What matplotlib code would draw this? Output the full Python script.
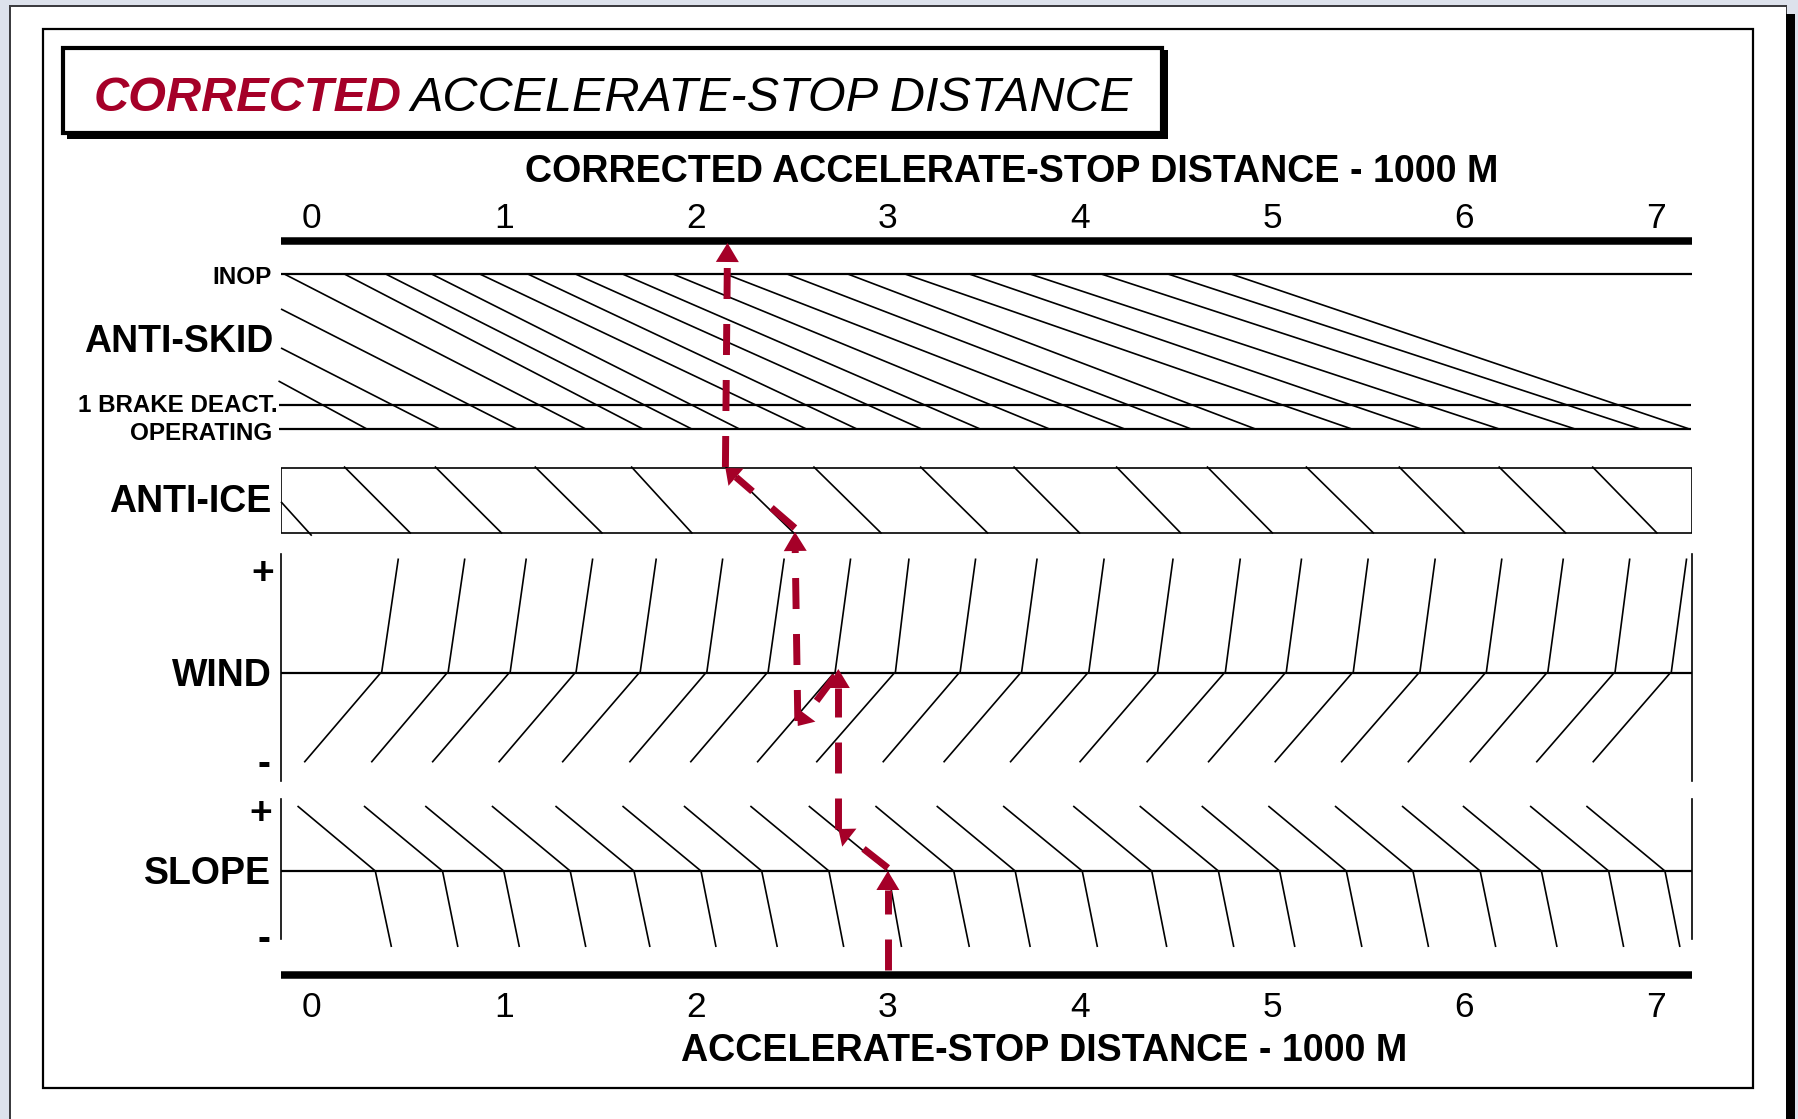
import matplotlib
matplotlib.use('Agg')
import matplotlib.pyplot as plt
from matplotlib.patches import Rectangle

plt.rcParams['font.family'] = ['Liberation Sans', 'DejaVu Sans']

RED = '#a50028'
BG = '#dde2ec'

# distance scale, 1000 m
TICKS = [0, 1, 2, 3, 4, 5, 6, 7]
X_MIN, X_MAX = -0.16, 7.187

# chart rows, y is pixels from the top of the picture
Y_TOP_BAR, Y_BOTTOM_BAR = 241, 974.5
Y_INOP, Y_BRAKE, Y_OPERATING = 274, 404.6, 429.3
Y_ICE_TOP, Y_ICE_BOTTOM = 467.5, 532.5
Y_WIND_TOP, Y_WIND_MID, Y_WIND_BOTTOM = 558.5, 672.5, 762.3
Y_SLOPE_TOP, Y_SLOPE_MID, Y_SLOPE_BOTTOM = 806, 871, 947

# anti-skid guide lines
skid_left_x = [-0.173, -0.160, -0.160]
skid_left_y = [381, 348, 309]
skid_top = [-0.143, 0.170, 0.385, 0.624, 0.875, 1.125, 1.373, 1.618, 1.881,
            2.155, 2.475, 2.791, 3.089, 3.424, 3.740, 4.111, 4.458, 4.787]
skid_bottom = [0.290, 0.669, 1.072, 1.430, 1.728, 1.982, 2.230, 2.579, 2.842,
               3.179, 3.484, 3.845, 4.237, 4.583, 4.918, 5.420, 5.782, 6.188,
               6.583, 6.923, 7.178]

# anti-ice guide lines
ice_top = [0.168, 0.641, 1.161, 1.663, 2.154, 2.612, 3.168, 3.654, 4.188,
           4.661, 5.176, 5.660, 6.180, 6.667]
ice_bottom = [0.516, 0.991, 1.514, 1.982, 2.513, 2.967, 3.522, 4.001, 4.527,
              5.005, 5.531, 6.006, 6.532, 7.007]

# wind guide lines
wind_top = [0.451, 0.797, 1.117, 1.463, 1.794, 2.140, 2.460, 2.806, 3.110,
            3.457, 3.777, 4.126, 4.485, 4.835, 5.154, 5.501, 5.850, 6.197,
            6.517, 6.863, 7.159]
wind_mid = [0.364, 0.710, 1.033, 1.376, 1.710, 2.057, 2.376, 2.725, 3.039,
            3.376, 3.696, 4.046, 4.404, 4.757, 5.074, 5.423, 5.770, 6.116,
            6.436, 6.786, 7.079]
wind_bottom = [-0.039, 0.310, 0.627, 0.973, 1.304, 1.654, 1.971, 2.319, 2.627,
               2.973, 3.290, 3.636, 3.998, 4.347, 4.667, 5.014, 5.360, 5.707,
               6.030, 6.376, 6.670]

# slope guide lines
slope_top = [-0.074, 0.272, 0.591, 0.938, 1.269, 1.618, 1.938, 2.284, 2.588,
             2.935, 3.254, 3.600, 3.965, 4.311, 4.634, 4.981, 5.328, 5.677,
             5.994, 6.344, 6.637]
slope_mid = [0.331, 0.681, 1.000, 1.346, 1.678, 2.027, 2.343, 2.693, 3.000,
             3.343, 3.663, 4.012, 4.374, 4.721, 5.040, 5.387, 5.734, 6.084,
             6.403, 6.753, 7.046]
slope_bottom = [0.415, 0.761, 1.081, 1.427, 1.761, 2.105, 2.424, 2.770, 3.071,
                3.424, 3.741, 4.091, 4.452, 4.801, 5.119, 5.468, 5.815, 6.165,
                6.484, 6.831, 7.124]

leg_x0 = [3.00, 3.00, 2.742, 2.725, 2.531, 2.516, 2.154]
leg_y0 = [970, 868, 829, 676, 721, 528, 467]
leg_x1 = [3.00, 2.742, 2.742, 2.531, 2.516, 2.154, 2.165]
leg_y1 = [871, 829, 669, 726, 532, 468, 243]

fig = plt.figure(figsize=(17.98, 11.19), dpi=100, facecolor='white')

# page furniture in pixels
px = fig.add_axes([0, 0, 1, 1])
px.set_xlim(0, 1798)
px.set_ylim(1119, 0)
px.axis('off')
px.add_patch(Rectangle((0, 0), 1798, 1119, fc=BG, ec='none'))
px.add_patch(Rectangle((9, 5), 1778, 1114, fc='#3c3c40', ec='none'))
px.add_patch(Rectangle((11, 7), 1774.5, 1112, fc='white', ec='none'))
px.add_patch(Rectangle((1786, 14), 9, 1105, fc='black', ec='none'))
px.add_patch(Rectangle((43, 28.7), 1709.5, 1059.3, fc='white', ec='black', lw=1.6))
px.add_patch(Rectangle((67, 50), 1101, 89, fc='black', ec='none'))
px.add_patch(Rectangle((63, 47.5), 1099, 85, fc='white', ec='black', lw=3))

# chart drawn on the distance scale
left, right = 281, 1692
ax = fig.add_axes([left / 1798, 0, (right - left) / 1798, 1])
ax.set_xlim(X_MIN, X_MAX)
ax.set_ylim(1119, 0)
ax.axis('off')
ax.patch.set_alpha(0)


def guide(x0, y0, x1, y1):
    ax.plot([x0, x1], [y0, y1], color='black', lw=1.2, solid_capstyle='butt', clip_on=False)


def rule(y, lw=1.6, x0=X_MIN, x1=X_MAX):
    ax.plot([x0, x1], [y, y], color='black', lw=lw, solid_capstyle='butt', clip_on=False)


for v in [Y_TOP_BAR, Y_BOTTOM_BAR]:
    rule(v, lw=5.4)
rule(Y_INOP)
rule(Y_BRAKE, x0=-0.17, x1=7.18)
rule(Y_OPERATING, x0=-0.17, x1=7.18)

for x, y, xb in zip(skid_left_x, skid_left_y, skid_bottom):
    guide(x, y, xb, Y_OPERATING)
for xt, xb in zip(skid_top, skid_bottom[3:]):
    guide(xt, Y_INOP, xb, Y_OPERATING)

ax.add_patch(Rectangle((X_MIN, Y_ICE_TOP), X_MAX - X_MIN, Y_ICE_BOTTOM - Y_ICE_TOP,
                       fc='none', ec='black', lw=1.2))
guide(-0.160, 501.8, 0.0, 535.7)
for xt, xb in zip(ice_top, ice_bottom):
    guide(xt, Y_ICE_TOP - 1, xb, Y_ICE_BOTTOM + 1)

for y0, y1 in [(554, 781), (798.5, 939)]:
    ax.plot([X_MIN, X_MIN], [y0, y1], color='black', lw=1.2, clip_on=False)
    ax.plot([X_MAX, X_MAX], [y0, y1], color='black', lw=1.2, clip_on=False)

rule(Y_WIND_MID)
for xt, xm, xb in zip(wind_top, wind_mid, wind_bottom):
    guide(xt, Y_WIND_TOP, xm, Y_WIND_MID)
    guide(xm - 0.008, Y_WIND_MID + 1, xb, Y_WIND_BOTTOM)

rule(Y_SLOPE_MID)
for xt, xm, xb in zip(slope_top, slope_mid, slope_bottom):
    guide(xt, Y_SLOPE_TOP, xm, Y_SLOPE_MID)
    guide(xm, Y_SLOPE_MID, xb, Y_SLOPE_BOTTOM)

# dashed example line, straight legs have longer heads than the slanted ones
km_px = (right - left) / (X_MAX - X_MIN)
lw = 5.0
for x0, y0, x1, y1 in zip(leg_x0, leg_y0, leg_x1, leg_y1):
    dx, dy = (x1 - x0) * km_px, y1 - y0
    length = (dx ** 2 + dy ** 2) ** 0.5
    head = 19 if abs(dx) < 5 else 14
    bx = x1 - (x1 - x0) * head / length
    by = y1 - (y1 - y0) * head / length
    ax.plot([x0, bx], [y0, by], color=RED, lw=lw, zorder=5,
            linestyle=(0, (31 * 0.72 / lw, 25 * 0.72 / lw)), dash_capstyle='butt', clip_on=False)
    ax.annotate('', xy=(x1, y1), xytext=(bx, by), zorder=6,
                arrowprops=dict(arrowstyle=f'-|>,head_length={head * 0.72},head_width={11.5 * 0.72}',
                                mutation_scale=1, color=RED, fc=RED, lw=0,
                                shrinkA=0, shrinkB=0))

for t in TICKS:
    ax.text(t, 227.5, str(t), ha='center', va='baseline', fontsize=25.5, clip_on=False)
    ax.text(t, 1017, str(t), ha='center', va='baseline', fontsize=25.5, clip_on=False)

# text in pixels
px.text(94, 111, 'CORRECTED', color=RED, fontsize=35, style='italic', weight='bold', va='baseline')
px.text(410, 111, 'ACCELERATE-STOP DISTANCE', fontsize=35, style='italic', va='baseline')
px.text(1011.7, 182, 'CORRECTED ACCELERATE-STOP DISTANCE - 1000 M', fontsize=27.1, weight='bold',
        ha='center', va='baseline')
px.text(1044, 1060.7, 'ACCELERATE-STOP DISTANCE - 1000 M', fontsize=27.1, weight='bold',
        ha='center', va='baseline')

labels = [('INOP', 272, 283.5, 17.5), ('ANTI-SKID', 273, 352, 27), ('1 BRAKE DEACT.', 278, 412, 17.4),
          ('OPERATING', 272, 439.5, 17.5), ('ANTI-ICE', 271, 512.5, 27), ('WIND', 271.5, 686, 27),
          ('SLOPE', 271, 884, 27), ('+', 274, 584, 28), ('-', 270, 775, 28),
          ('+', 272, 824, 28), ('-', 270, 950, 28)]
for s, x, y, size in labels:
    px.text(x, y, s, fontsize=size, weight='bold', ha='right', va='baseline')

fig.savefig('out.png', dpi=100)
